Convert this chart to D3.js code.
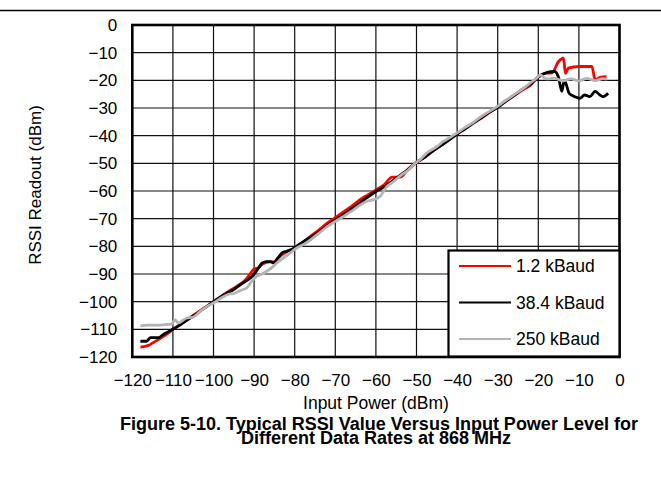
<!DOCTYPE html>
<html><head><meta charset="utf-8">
<script src="https://cdn.jsdelivr.net/npm/d3@7"></script>
<style>body{margin:0;background:#fff}svg{display:block;font-family:"Liberation Sans",Arial,sans-serif}</style>
</head><body><svg id="c" width="661" height="481"></svg>
<script>
const xTicks = [-120,-110,-100,-90,-80,-70,-60,-50,-40,-30,-20,-10,0];
const yTicks = [0,-10,-20,-30,-40,-50,-60,-70,-80,-90,-100,-110,-120];
const seriesNames = ["1.2 kBaud","38.4 kBaud","250 kBaud"];
const seriesColors = ["#ff0000","#000000","#b4b4b4"];

const redX = [-118,-116,-115,-113,-111,-110,-108,-106,-104,-102,-100,-98,-96,-94,-92,-91,-90,-89,-88,-87,-86,-85,-84,-82,-80,-78,-76,-74,-72,-70,-68,-66,-64,-62,-60,-58,-56,-54,-52,-50,-48,-46,-44,-42,-40,-38,-36,-34,-32,-30,-28,-26,-24,-22,-20,-18,-16.7,-15,-13.8,-13.3,-12.6,-10,-8,-6.8,-6,-4.8,-3.2];
const redY = [-116.4,-115.8,-114.9,-113.2,-111.2,-110,-108,-106,-104,-102,-100,-98,-96,-94.2,-92,-90,-88.2,-87.8,-86.5,-85.8,-85.6,-85.6,-84,-82,-80.6,-78.6,-76.2,-74,-71.6,-69.6,-67.6,-65.6,-63.2,-61.4,-59.6,-57.8,-55,-55,-52,-49.7,-47.8,-45.6,-43.6,-41.5,-39.4,-37.4,-35.4,-33.6,-31.6,-29.6,-27.6,-25.6,-23.6,-21.8,-18.7,-17.4,-17.4,-13.2,-12,-17.5,-15.6,-15,-15,-15,-19.9,-18.9,-18.7];

const blackX = [-118,-116.5,-115.5,-113.5,-112.5,-111,-110,-108,-106,-104,-102,-100,-98,-96.5,-95,-93,-91,-90,-89,-88,-87,-86,-85.3,-84,-83,-82,-80.5,-79,-77.5,-76,-74,-72,-70,-68,-66,-64,-62,-60,-58,-56,-54,-52,-50,-48,-46,-44,-42,-40,-38,-36,-34,-32,-30,-28,-26,-24,-22,-20,-18.5,-17,-16,-15,-14.2,-13.6,-13,-12.4,-11,-9.8,-8.6,-7.3,-6,-4.8,-4,-2.8];
const blackY = [-114.3,-114.3,-113,-113,-112,-110.8,-110,-108.2,-106.2,-104.2,-102.1,-100,-98,-96.8,-95.6,-93.5,-91.5,-90,-88,-86,-85.5,-85.5,-86,-84,-82.2,-81.8,-81,-79.4,-78,-76.6,-74.8,-72.5,-70.5,-68.6,-66.5,-64.4,-62.2,-60.2,-58.5,-56.5,-54.3,-52.2,-49.6,-47.8,-45.6,-43.6,-41.6,-39.4,-37.5,-35.5,-33.5,-31.5,-29.8,-27.5,-25.5,-23.3,-21.5,-18.8,-17.5,-16.9,-16.8,-19,-24,-20,-22,-24.7,-25.9,-26.5,-25.3,-25.9,-24,-25.3,-25.9,-24.7];

const grayX = [-118,-116,-114,-112,-110.3,-109.5,-108.7,-106.6,-105,-103.3,-101.5,-100,-98,-96,-95,-93.5,-91.8,-90.5,-89.4,-88,-86.9,-85.5,-84.4,-82,-79.5,-77,-74,-72,-70,-68,-66,-64,-62.3,-61,-59,-57.3,-56,-54,-52,-50.8,-49,-47.5,-45,-43.4,-41.5,-40.1,-38,-36,-34,-32,-30,-28,-26,-24,-22,-20,-19.6,-18,-16,-14,-12,-10,-8,-6,-4,-3];
const grayY = [-108.7,-108.5,-108.5,-108.3,-108.1,-106.5,-107.7,-105.9,-105.6,-103.5,-101.6,-100.5,-98.6,-97.2,-97.1,-96,-95,-92.5,-90.9,-90,-89,-87.5,-86,-83.4,-80.6,-78.6,-75.2,-72.9,-71,-69.2,-67.3,-65.2,-63.8,-63.3,-62,-58.4,-57,-54.5,-52.4,-50.6,-48.5,-46.3,-44,-42.1,-40.4,-39.1,-37,-35.2,-33,-31.2,-29.3,-27.2,-25.2,-23.3,-21,-18.6,-18,-19.5,-19.2,-20.2,-19.5,-20.2,-19.3,-20.1,-19.4,-19.6];

const svg = d3.select("#c");
const L = 132.3, R = 619.5, T = 25, B = 357;
const x = d3.scaleLinear().domain([-120,0]).range([L,R]);
const y = d3.scaleLinear().domain([-120,0]).range([B,T]);
const fmt = v => v < 0 ? "\u2212" + Math.abs(v) : String(v);
const FF = "Liberation Sans, Arial, sans-serif";

// top rule
svg.append("line").attr("x1",0).attr("x2",661).attr("y1",10.5).attr("y2",10.5).attr("stroke","#000").attr("stroke-width",1.3);

// grid
const g = svg.append("g");
g.selectAll(".vg").data(xTicks).join("line").attr("x1",d=>x(d)).attr("x2",d=>x(d)).attr("y1",T).attr("y2",B).attr("stroke","#111").attr("stroke-width",1.2);
g.selectAll(".hg").data(yTicks).join("line").attr("y1",d=>y(d)).attr("y2",d=>y(d)).attr("x1",L).attr("x2",R).attr("stroke","#111").attr("stroke-width",1.2);

// series
const line = d3.line().x(d=>x(d[0])).y(d=>y(d[1])).curve(d3.curveMonotoneX);
const data = [d3.zip(redX,redY), d3.zip(blackX,blackY), d3.zip(grayX,grayY)];
svg.append("g").selectAll("path").data(data).join("path").attr("d",line).attr("fill","none")
  .attr("stroke",(d,i)=>seriesColors[i]).attr("stroke-width",2.8).attr("stroke-linejoin","round");

// border
svg.append("rect").attr("x",L).attr("y",T).attr("width",R-L).attr("height",B-T).attr("fill","none").attr("stroke","#000").attr("stroke-width",2.6);

// axes labels
svg.append("g").call(d3.axisBottom(x).tickValues(xTicks).tickFormat(fmt).tickSize(0))
  .call(s=>{s.select(".domain").remove(); s.selectAll("text").attr("y",386).attr("dy",null).attr("font-size",17).attr("font-family",FF).attr("fill","#000");});
svg.append("g").attr("transform",`translate(${L-15},0)`).call(d3.axisLeft(y).tickValues(yTicks).tickFormat(fmt).tickSize(0).tickPadding(0))
  .call(s=>{s.select(".domain").remove(); s.selectAll("text").attr("font-size",17).attr("font-family",FF).attr("fill","#000");});

svg.append("text").attr("x",376).attr("y",409).attr("text-anchor","middle").attr("font-size",17.5).text("Input Power (dBm)");
svg.append("text").attr("transform","translate(41,185) rotate(-90)").attr("text-anchor","middle").attr("font-size",17).text("RSSI Readout (dBm)");

svg.append("text").attr("x",379).attr("y",430).attr("text-anchor","middle").attr("font-size",18).attr("font-weight","bold").text("Figure 5-10. Typical RSSI Value Versus Input Power Level for");
svg.append("text").attr("x",376).attr("y",444).attr("text-anchor","middle").attr("font-size",18).attr("font-weight","bold").text("Different Data Rates at 868 MHz");

// legend
const lg = svg.append("g");
lg.append("rect").attr("x",448.5).attr("y",250.5).attr("width",171).attr("height",106).attr("fill","#fff").attr("stroke","#000").attr("stroke-width",2.2);
const ly = d3.scalePoint().domain(seriesNames).range([266,339]);
lg.selectAll("line").data(seriesNames).join("line").attr("x1",459).attr("x2",511).attr("y1",d=>ly(d)).attr("y2",d=>ly(d)).attr("stroke",(d,i)=>seriesColors[i]).attr("stroke-width",2.2);
lg.selectAll("text").data(seriesNames).join("text").attr("x",516).attr("y",d=>ly(d)+6).attr("font-size",17.5).text(d=>d);
</script></body></html>
